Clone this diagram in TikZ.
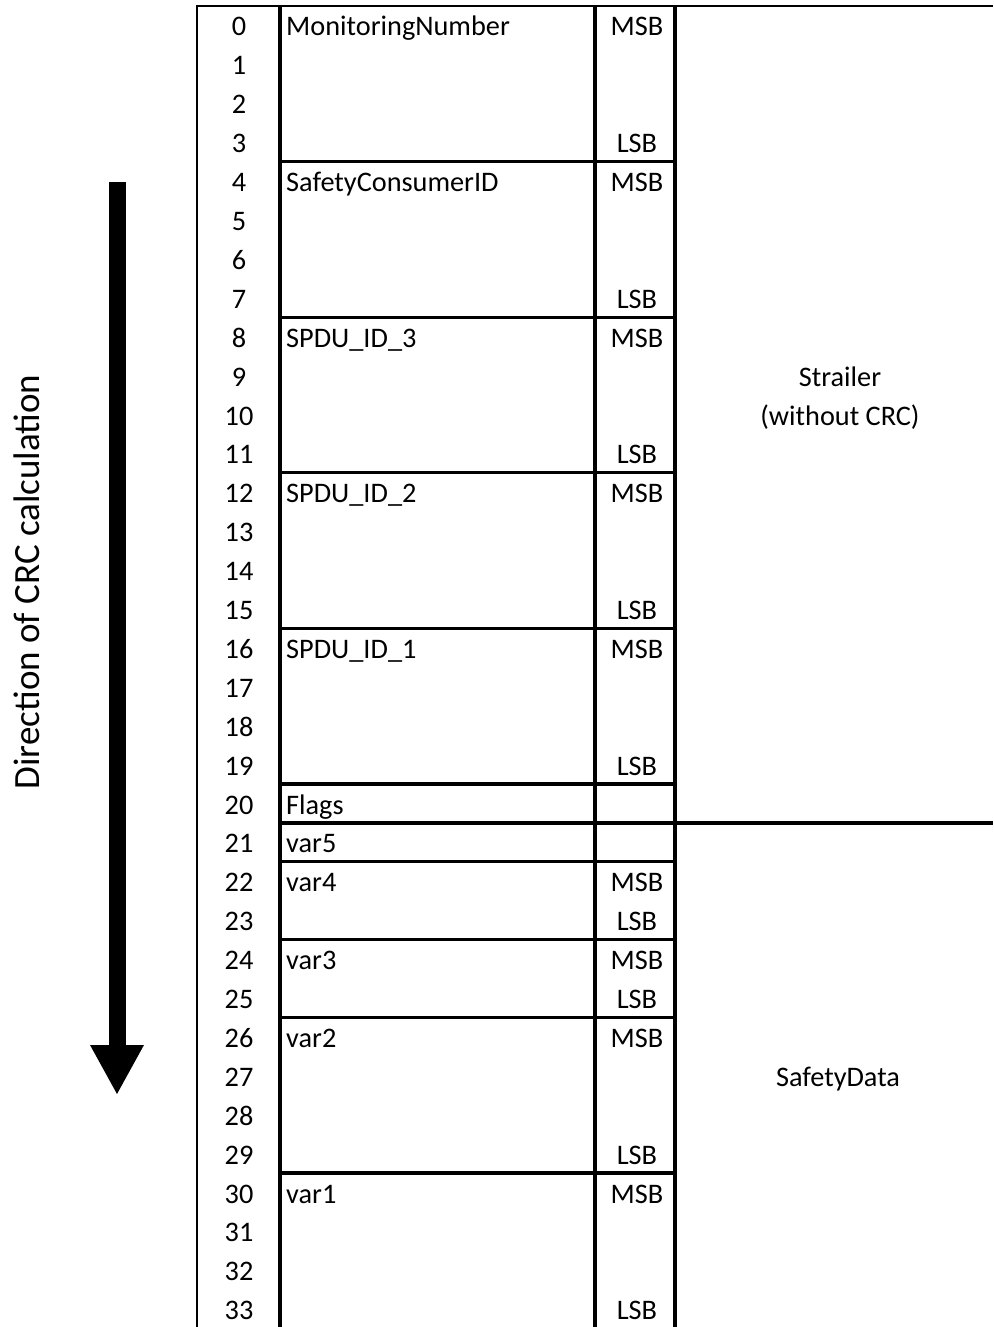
\documentclass[tikz,border=0pt]{standalone}
\usepackage{fontspec}
\setmainfont{Carlito}
\usetikzlibrary{arrows.meta}
\begin{document}
\begin{tikzpicture}[x=1pt,y=-1pt,
  thinline/.style={line width=2pt},
  boxline/.style={line width=3.2pt},
  txt/.style={inner sep=0pt,font=\fontsize{28.3}{34}\selectfont},
  num/.style={txt,anchor=base},
  fname/.style={txt,anchor=base west},
  bit/.style={txt,anchor=base},
  area/.style={txt,anchor=base}]
\useasboundingbox (0,0) rectangle (993,1327);
\def\rh{38.9}
\def\rt{6}
% outer frame
\draw[thinline] (197,1327) -- (197,\rt) -- (993,\rt);
% column separators
\foreach \xx in {280,595,675} \draw[boxline] (\xx,\rt) -- (\xx,1327);
% field boundaries
\foreach \k in {4,8,12,16,20,22,24,26,30} \draw[boxline] (280,{\rt+\k*\rh}) -- (675,{\rt+\k*\rh});
\draw[boxline] (280,{\rt+21*\rh}) -- (993,{\rt+21*\rh});
% row numbers
\foreach \k in {0,...,33} \node[num] (n\k) at (239,{\rt+\k*\rh+30}) {\k};
% field names
\node[fname] (f0) at (286,{\rt+0*\rh+30}) {MonitoringNumber};
\node[fname] (f4) at (286,{\rt+4*\rh+30}) {SafetyConsumerID};
\node[fname] (f8) at (286,{\rt+8*\rh+30}) {SPDU\_ID\_3};
\node[fname] (f12) at (286,{\rt+12*\rh+30}) {SPDU\_ID\_2};
\node[fname] (f16) at (286,{\rt+16*\rh+30}) {SPDU\_ID\_1};
\node[fname] (f20) at (286,{\rt+20*\rh+30}) {Flags};
\node[fname] (f21) at (286,{\rt+21*\rh+30}) {var5};
\node[fname] (f22) at (286,{\rt+22*\rh+30}) {var4};
\node[fname] (f24) at (286,{\rt+24*\rh+30}) {var3};
\node[fname] (f26) at (286,{\rt+26*\rh+30}) {var2};
\node[fname] (f30) at (286,{\rt+30*\rh+30}) {var1};
% MSB / LSB
\foreach \k in {0,4,8,12,16,22,24,26,30} \node[bit] (m\k) at (637,{\rt+\k*\rh+30}) {MSB};
\foreach \k in {3,7,11,15,19,23,25,29,33} \node[bit] (l\k) at (637,{\rt+\k*\rh+30}) {LSB};
% areas
\node[area] (str1) at (840,{\rt+9*\rh+30}) {Strailer};
\node[area] (str2) at (840,{\rt+10*\rh+30}) {(without CRC)};
\node[area] (sd) at (838,{\rt+27*\rh+30}) {SafetyData};
% direction arrow
\coordinate (atop) at (117,182);
\coordinate (atip) at (117,1095);
\draw[line width=17pt,-{Triangle[length=50pt,width=50pt]}] (atop) -- (atip);
\node[inner sep=0pt,font=\fontsize{37}{44}\selectfont,rotate=90] (dir) at (27,582) {Direction of CRC calculation};
\end{tikzpicture}
\end{document}
